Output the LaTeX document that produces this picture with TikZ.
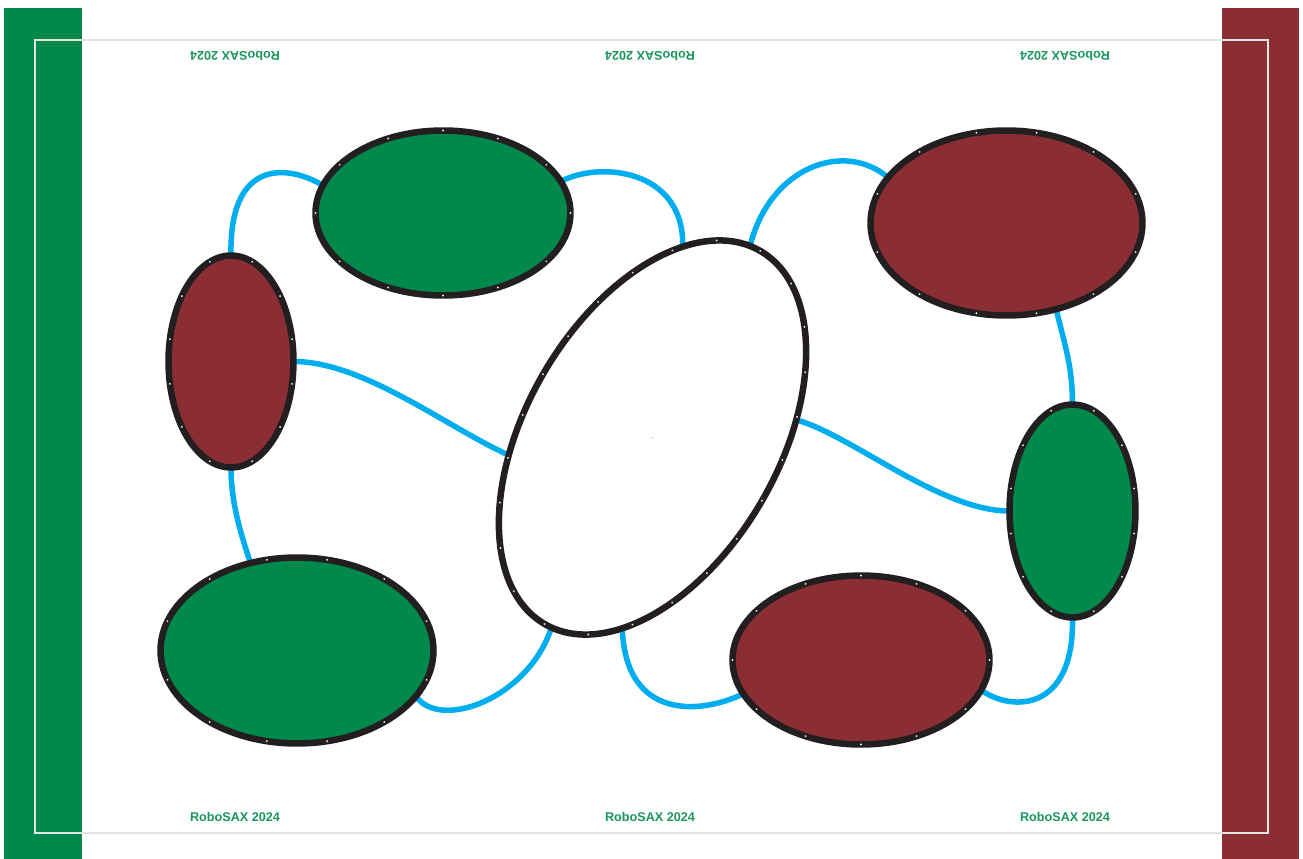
\documentclass[tikz,border=0pt]{standalone}
\usepackage{fontspec}
\setsansfont{Liberation Sans}
\usetikzlibrary{shapes.geometric, decorations.markings, backgrounds}

\definecolor{fieldgreen}{HTML}{00894B}
\definecolor{fieldred}{HTML}{8B2E34}
\definecolor{cableblue}{HTML}{00AEEF}
\definecolor{rimblack}{HTML}{231F20}

\begin{document}
\begin{tikzpicture}[
  x=0.02cm, y=-0.02cm,
  zone/.style={ellipse, draw=rimblack, line width=0.13cm, inner sep=0pt, outer sep=0pt},
  greenzone/.style={zone, fill=fieldgreen},
  redzone/.style={zone, fill=fieldred},
  rivets/.style={decoration={markings,
      mark=between positions #1 with {\fill[gray!15] (0,0) circle (0.6pt);}},
      postaction={decorate}},
  cable/.style={draw=cableblue, line width=0.11cm},
  stamp/.style={inner sep=0pt, text=fieldgreen!90!white, font=\sffamily\bfseries\fontsize{7.2}{9}\selectfont}]

  \useasboundingbox (0,0) rectangle (1303,859);

  % ---- start bands and frame -----------------------------------------------
  \fill[fieldgreen] (4,8) rectangle (82,859);
  \fill[fieldred] (1222,8) rectangle (1299,859);
  \draw[gray!22, line width=0.025cm] (35,40) rectangle (1268,833);

  % ---- zones ----------------------------------------------------------------
  \node[greenzone, rivets=0 and 0.999 step 1/12, minimum width=5.10cm, minimum height=3.30cm] (T) at (443,213) {};
  \node[redzone, rivets=1/24 and 0.999 step 1/12, minimum width=2.50cm, minimum height=4.24cm] (L) at (231,361.5) {};
  \node[greenzone, rivets=1/24 and 0.999 step 1/12, minimum width=5.46cm, minimum height=3.72cm] (G3) at (297,650.5) {};
  \node[redzone, rivets=1/24 and 0.999 step 1/12, minimum width=5.44cm, minimum height=3.70cm] (R1) at (1006.5,223) {};
  \node[greenzone, rivets=1/24 and 0.999 step 1/12, minimum width=2.52cm, minimum height=4.26cm] (G2) at (1072.5,511) {};
  \node[redzone, rivets=0 and 0.999 step 1/12, minimum width=5.14cm, minimum height=3.38cm] (R3) at (861,660) {};
  \node[zone, fill=white, rivets=0 and 0.999 step 1/24, rotate=-30, minimum width=5.06cm, minimum height=8.62cm] (C) at (652.5,437.5) {};
  \fill[gray!50] (C.center) circle (0.5pt);

  % ---- cables ---------------------------------------------------------------
  % anchors on C are in the node's own frame, i.e. 30 degrees more than seen
  \begin{scope}[on background layer]
    \draw[cable] (L.90)  .. controls +(-2,-95) and +(-38,-22) .. (T.167);
    \draw[cable] (T.15)  .. controls +(40,-21) and +(2,-77)   .. (C.111);
    \draw[cable] (L.0)   .. controls +(70,0)   and +(-62,-28) .. (C.217);
    \draw[cable] (C.93)  .. controls +(20,-80) and +(-43,-37) .. (R1.159);
    \draw[cable] (C.37)  .. controls +(55,15)  and +(-70,0)   .. (G2.180);
    \draw[cable] (R1.300) .. controls +(8,35)  and +(0,-40)   .. (G2.90);
    \draw[cable] (G2.270) .. controls +(2,97)  and +(28,21)   .. (R3.346);
    \draw[cable] (C.291) .. controls +(3,92)   and +(-43,21)  .. (R3.196);
    \draw[cable] (C.272) .. controls +(-23,71) and +(24,35)   .. (G3.339);
    \draw[cable] (L.270) .. controls +(0,35)   and +(-10,-30) .. (G3.118);
  \end{scope}

  % ---- stamps ---------------------------------------------------------------
  \node[stamp, rotate=180] (stampTL) at (235,56) {RoboSAX 2024};
  \node[stamp, rotate=180] (stampTM) at (650,56) {RoboSAX 2024};
  \node[stamp, rotate=180] (stampTR) at (1065,56) {RoboSAX 2024};
  \node[stamp] (stampBL) at (235,817) {RoboSAX 2024};
  \node[stamp] (stampBM) at (650,817) {RoboSAX 2024};
  \node[stamp] (stampBR) at (1065,817) {RoboSAX 2024};
\end{tikzpicture}
\end{document}
